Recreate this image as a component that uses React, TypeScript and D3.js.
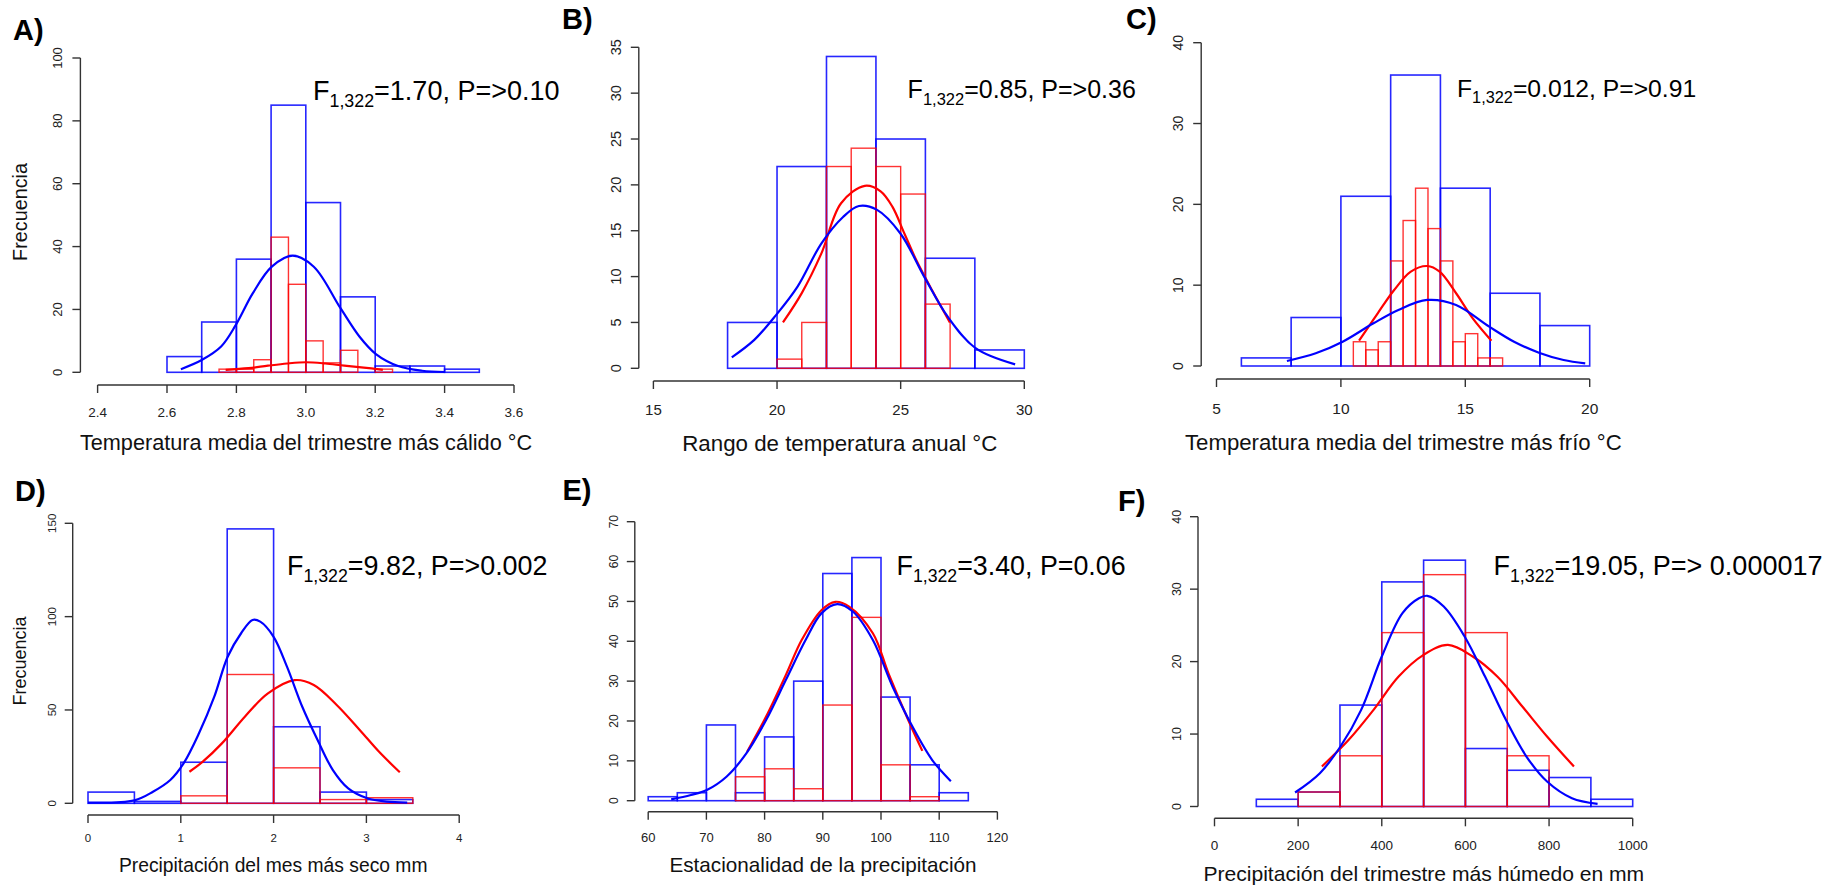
import * as d3 from 'd3'

const FONT = '"Liberation Sans", Arial, Helvetica, sans-serif'
const BLUE = '#0000ff'
const RED = '#ff0000'

// ---- A) warmest quarter mean temperature
const aXTicks = [2.4, 2.6, 2.8, 3.0, 3.2, 3.4, 3.6]
const aYTicks = [0, 20, 40, 60, 80, 100]
const aBlueEdges = [2.6, 2.7, 2.8, 2.9, 3.0, 3.1, 3.2, 3.3, 3.4, 3.5]
const aBlueCounts = [5, 16, 36, 85, 54, 24, 2, 2, 1]
const aRedEdges = [2.75, 2.8, 2.85, 2.9, 2.95, 3.0, 3.05, 3.1, 3.15, 3.2, 3.25]
const aRedCounts = [1, 1, 4, 43, 28, 10, 3, 7, 0, 1]
const aBlueCurve = [[2.64, 1.0], [2.70, 3.9], [2.756, 8.2], [2.798, 15], [2.847, 25.1], [2.902, 33.6], [2.962, 37.1], [3.023, 33.6], [3.10, 20.4], [3.155, 11.3], [3.202, 5.8], [3.266, 2.0], [3.335, 0.5], [3.40, 0.1]]
const aRedCurve = [[2.769, 0.8], [2.835, 1.3], [2.891, 2.1], [2.946, 2.8], [3.001, 3.2], [3.056, 2.8], [3.111, 2.1], [3.167, 1.5], [3.222, 0.8]]

// ---- B) annual temperature range
const bXTicks = [15, 20, 25, 30]
const bYTicks = [0, 5, 10, 15, 20, 25, 30, 35]
const bBlueEdges = [18, 20, 22, 24, 26, 28, 30]
const bBlueCounts = [5, 22, 34, 25, 12, 2]
const bRedEdges = [20, 21, 22, 23, 24, 25, 26, 27]
const bRedCounts = [1, 5, 22, 24, 22, 19, 7]
const bBlueCurve = [[18.17, 1.2], [19.08, 3.1], [19.96, 5.8], [20.83, 8.9], [21.79, 13.6], [22.67, 16.5], [23.31, 17.7], [24.03, 17.3], [24.99, 14.7], [25.95, 10.0], [26.91, 5.6], [28.03, 2.2], [29.63, 0.43]]
const bRedCurve = [[20.24, 5.0], [21.0, 8.2], [21.79, 12.5], [22.59, 18.0], [23.55, 19.9], [24.19, 19.3], [24.67, 17.6], [25.15, 14.7], [25.63, 11.8], [26.27, 8.5], [26.99, 5.0]]

// ---- C) coldest quarter mean temperature
const cXTicks = [5, 10, 15, 20]
const cYTicks = [0, 10, 20, 30, 40]
const cBlueEdges = [6, 8, 10, 12, 14, 16, 18, 20]
const cBlueCounts = [1, 6, 21, 36, 22, 9, 5]
const cRedEdges = [10.5, 11, 11.5, 12, 12.5, 13, 13.5, 14, 14.5, 15, 15.5, 16, 16.5]
const cRedCounts = [3, 2, 3, 13, 18, 22, 17, 13, 3, 4, 1, 1]
const cBlueCurve = [[7.83, 0.62], [8.99, 1.57], [10.07, 3.0], [11.31, 5.28], [12.31, 6.93], [13.47, 8.17], [14.63, 7.55], [15.96, 4.87], [16.96, 3.0], [17.96, 1.65], [18.95, 0.74], [19.82, 0.33]]
const cRedCurve = [[10.73, 3.13], [11.48, 6.52], [12.14, 9.4], [12.81, 11.67], [13.47, 12.37], [13.97, 11.67], [14.63, 9.0], [15.30, 5.9], [16.05, 3.13]]

// ---- D) driest month precipitation
const dXTicks = [0, 1, 2, 3, 4]
const dYTicks = [0, 50, 100, 150]
const dBlueEdges = [0, 0.5, 1, 1.5, 2, 2.5, 3, 3.5]
const dBlueCounts = [6, 1, 22, 147, 41, 6, 2]
const dRedEdges = [1, 1.5, 2, 2.5, 3, 3.5]
const dRedCounts = [4, 69, 19, 2, 3]
const dBlueCurve = [[0, 0.4], [0.5, 1.6], [0.70, 6.2], [0.887, 12.5], [1.03, 21.4], [1.196, 37.5], [1.361, 57.1], [1.505, 78.5], [1.65, 91.1], [1.773, 98.2], [1.856, 97.3], [2.0, 89.2], [2.144, 73.2], [2.309, 51.7], [2.474, 33.9], [2.639, 17.8], [2.804, 8.0], [3.01, 2.7], [3.217, 0.9], [3.44, 0.4]]
const dRedCurve = [[1.093, 16.9], [1.237, 22.3], [1.443, 32.1], [1.69, 46.4], [1.939, 58.9], [2.227, 66.0], [2.433, 63.4], [2.68, 52.7], [2.928, 39.3], [3.134, 27.7], [3.36, 16.6]]

// ---- E) precipitation seasonality
const eXTicks = [60, 70, 80, 90, 100, 110, 120]
const eYTicks = [0, 10, 20, 30, 40, 50, 60, 70]
const eBlueEdges = [60, 65, 70, 75, 80, 85, 90, 95, 100, 105, 110, 115]
const eBlueCounts = [1, 2, 19, 2, 16, 30, 57, 61, 26, 9, 2]
const eRedEdges = [75, 80, 85, 90, 95, 100, 105, 110]
const eRedCounts = [6, 8, 3, 24, 46, 9, 1]
const eBlueCurve = [[63.95, 0.33], [67.34, 1.42], [70.07, 2.68], [73.45, 6.02], [76.86, 11.87], [80.26, 20.24], [83.64, 30.27], [87.04, 40.3], [89.76, 47.0], [92.47, 49.3], [95.2, 47.4], [98.6, 40.3], [102.0, 28.6], [105.4, 18.6], [108.8, 10.2], [112.0, 4.9]]
const eRedCurve = [[77.0, 12.3], [80.26, 21.1], [83.64, 31.5], [86.37, 40.3], [89.76, 47.8], [92.15, 49.9], [94.52, 48.7], [98.6, 42.0], [101.3, 31.9], [104.7, 20.2], [107.1, 12.5]]

// ---- F) wettest quarter precipitation
const fXTicks = [0, 200, 400, 600, 800, 1000]
const fYTicks = [0, 10, 20, 30, 40]
const fBlueEdges = [100, 200, 300, 400, 500, 600, 700, 800, 900, 1000]
const fBlueCounts = [1, 2, 14, 31, 34, 8, 5, 4, 1]
const fRedEdges = [200, 300, 400, 500, 600, 700, 800]
const fRedCounts = [2, 7, 24, 32, 24, 7]
const fBlueCurve = [[192.7, 1.93], [252, 4.6], [301.2, 8.28], [350.7, 13.34], [400, 20.7], [449.5, 26.7], [488.9, 28.75], [508.8, 29.08], [548.2, 27.6], [597.7, 23.5], [647.2, 17.9], [696.5, 12.0], [745.9, 6.9], [795.2, 3.45], [854.7, 1.15], [916, 0.37]]
const fRedCurve = [[256.8, 5.52], [321, 9.2], [380.4, 13.34], [439.7, 17.9], [499, 20.9], [558.2, 22.3], [617.5, 20.7], [676.8, 17.9], [736.1, 13.8], [795.2, 9.66], [859.5, 5.52]]

const panels = [
  {
    tag: 'A)', tagX: 13, tagY: 40,
    xTicks: aXTicks, yTicks: aYTicks, fmt: (v: number) => v.toFixed(1),
    blue: [aBlueEdges, aBlueCounts], red: [aRedEdges, aRedCounts], blueCurve: aBlueCurve, redCurve: aRedCurve,
    xl: 97.6, xr: 514, xAxisY: 385, yAxisX: 80.4, yb: 372.3, yt: 58,
    xTickFs: 13.5, yTickFs: 13, xLabDy: 26.7, yLabDx: 23,
    title: 'Temperatura media del trimestre más cálido °C', titleX: 306, titleY: 441.7, titleFs: 21.7,
    ylab: true, ylabX: 20, ylabY: 212, ylabFs: 19.8,
    stat: ['=1.70, P=>0.10'], statX: 313, statY: 100, statFs: 27,
  },
  {
    tag: 'B)', tagX: 562, tagY: 29,
    xTicks: bXTicks, yTicks: bYTicks, fmt: (v: number) => String(v),
    blue: [bBlueEdges, bBlueCounts], red: [bRedEdges, bRedCounts], blueCurve: bBlueCurve, redCurve: bRedCurve,
    xl: 653.4, xr: 1024.3, xAxisY: 381, yAxisX: 638.8, yb: 368.3, yt: 47.3,
    xTickFs: 15, yTickFs: 14.5, xLabDy: 29, yLabDx: 23,
    title: 'Rango de temperatura anual °C', titleX: 839.8, titleY: 443.3, titleFs: 22.3,
    ylab: false,
    stat: ['=0.85, P=>0.36'], statX: 907.6, statY: 98.3, statFs: 25,
  },
  {
    tag: 'C)', tagX: 1126, tagY: 29,
    xTicks: cXTicks, yTicks: cYTicks, fmt: (v: number) => String(v),
    blue: [cBlueEdges, cBlueCounts], red: [cRedEdges, cRedCounts], blueCurve: cBlueCurve, redCurve: cRedCurve,
    xl: 1216.5, xr: 1589.7, xAxisY: 379, yAxisX: 1201.2, yb: 366, yt: 42.7,
    xTickFs: 15.5, yTickFs: 14, xLabDy: 29.3, yLabDx: 23.7,
    title: 'Temperatura media del trimestre más frío °C', titleX: 1403.4, titleY: 441.7, titleFs: 22.2,
    ylab: false,
    stat: ['=0.012, P=>0.91'], statX: 1457, statY: 96.7, statFs: 24.7,
  },
  {
    tag: 'D)', tagX: 15, tagY: 501,
    xTicks: dXTicks, yTicks: dYTicks, fmt: (v: number) => String(v),
    blue: [dBlueEdges, dBlueCounts], red: [dRedEdges, dRedCounts], blueCurve: dBlueCurve, redCurve: dRedCurve,
    xl: 88, xr: 459.2, xAxisY: 815, yAxisX: 72.7, yb: 803.3, yt: 523.3,
    xTickFs: 11.5, yTickFs: 11.5, xLabDy: 23.3, yLabDx: 21,
    title: 'Precipitación del mes más seco mm', titleX: 273.2, titleY: 865, titleFs: 19.3,
    ylab: true, ylabX: 20, ylabY: 661, ylabFs: 18,
    stat: ['=9.82, P=>0.002'], statX: 287, statY: 575, statFs: 26.9,
  },
  {
    tag: 'E)', tagX: 562.5, tagY: 500,
    xTicks: eXTicks, yTicks: eYTicks, fmt: (v: number) => String(v),
    blue: [eBlueEdges, eBlueCounts], red: [eRedEdges, eRedCounts], blueCurve: eBlueCurve, redCurve: eRedCurve,
    xl: 648.2, xr: 997.4, xAxisY: 811.7, yAxisX: 634.8, yb: 800.7, yt: 521.7,
    xTickFs: 13, yTickFs: 12, xLabDy: 26, yLabDx: 21,
    title: 'Estacionalidad de la precipitación', titleX: 823, titleY: 865, titleFs: 20.7,
    ylab: false,
    stat: ['=3.40, P=0.06'], statX: 896.6, statY: 575, statFs: 26.8,
  },
  {
    tag: 'F)', tagX: 1118, tagY: 511,
    xTicks: fXTicks, yTicks: fYTicks, fmt: (v: number) => String(v),
    blue: [fBlueEdges, fBlueCounts], red: [fRedEdges, fRedCounts], blueCurve: fBlueCurve, redCurve: fRedCurve,
    xl: 1214.5, xr: 1632.7, xAxisY: 818.3, yAxisX: 1198, yb: 806.5, yt: 516.7,
    xTickFs: 13.5, yTickFs: 12.5, xLabDy: 26.7, yLabDx: 22,
    title: 'Precipitación del trimestre más húmedo en mm', titleX: 1423.8, titleY: 873.3, titleFs: 21.1,
    ylab: false,
    stat: ['=19.05, P=> 0.000017'], statX: 1493.4, statY: 575, statFs: 27,
  },
]

function Hist({ edges, counts, x, y, color, width, opacity }: any) {
  return (
    <g>
      {counts.map((c: number, i: number) => (
        <rect key={i}
          x={x(edges[i])} y={y(c)}
          width={x(edges[i + 1]) - x(edges[i])} height={y(0) - y(c)}
          fill="none" stroke={color} strokeWidth={width} strokeOpacity={opacity} />
      ))}
    </g>
  )
}

function Panel({ p }: any) {
  const xDom = [p.xTicks[0], p.xTicks[p.xTicks.length - 1]]
  const yMax = p.yTicks[p.yTicks.length - 1]
  const x = d3.scaleLinear().domain(xDom).range([p.xl, p.xr])
  const y = d3.scaleLinear().domain([0, yMax]).range([p.yb, p.yt])
  const line = d3.line<number[]>()
    .x(d => x(d[0])).y(d => y(d[1]))
    .curve(d3.curveCatmullRom.alpha(0.5))
  const axisCol = '#333'
  const tick = 8

  return (
    <g fontFamily={FONT}>
      <text x={p.tagX} y={p.tagY} fontSize={29} fontWeight="bold" fill="#000">{p.tag}</text>

      {/* y axis */}
      <line x1={p.yAxisX} x2={p.yAxisX} y1={y(0)} y2={y(yMax)} stroke={axisCol} strokeWidth={1.4} />
      {p.yTicks.map((t: number) => (
        <g key={t}>
          <line x1={p.yAxisX - tick} x2={p.yAxisX} y1={y(t)} y2={y(t)} stroke={axisCol} strokeWidth={1.4} />
          <text transform={`translate(${p.yAxisX - p.yLabDx},${y(t)}) rotate(-90)`} dy="0.36em"
            textAnchor="middle" fontSize={p.yTickFs} fill="#222">{t}</text>
        </g>
      ))}

      {/* x axis */}
      <line x1={x(xDom[0])} x2={x(xDom[1])} y1={p.xAxisY} y2={p.xAxisY} stroke={axisCol} strokeWidth={1.4} />
      {p.xTicks.map((t: number) => (
        <g key={t}>
          <line x1={x(t)} x2={x(t)} y1={p.xAxisY} y2={p.xAxisY + tick} stroke={axisCol} strokeWidth={1.4} />
          <text x={x(t)} y={p.xAxisY + p.xLabDy} dy="0.36em" textAnchor="middle"
            fontSize={p.xTickFs} fill="#222">{p.fmt(t)}</text>
        </g>
      ))}

      <text x={p.titleX} y={p.titleY} dy="0.36em" textAnchor="middle" fontSize={p.titleFs} fill="#111">{p.title}</text>
      {p.ylab && (
        <text transform={`translate(${p.ylabX},${p.ylabY}) rotate(-90)`} dy="0.36em" textAnchor="middle"
          fontSize={p.ylabFs} fill="#111">Frecuencia</text>
      )}

      <Hist edges={p.blue[0]} counts={p.blue[1]} x={x} y={y} color={BLUE} width={1.6} opacity={0.85} />
      <Hist edges={p.red[0]} counts={p.red[1]} x={x} y={y} color={RED} width={1.4} opacity={0.8} />

      <path d={line(p.redCurve) || ''} fill="none" stroke={RED} strokeWidth={2.2} />
      <path d={line(p.blueCurve) || ''} fill="none" stroke={BLUE} strokeWidth={2.2} />

      <text x={p.statX} y={p.statY} fontSize={p.statFs} fill="#000">
        F
        <tspan fontSize={p.statFs * 0.66} dy={p.statFs * 0.25}>1,322</tspan>
        <tspan fontSize={p.statFs} dy={-p.statFs * 0.25}>{p.stat[0]}</tspan>
      </text>
    </g>
  )
}

export default function App() {
  return (
    <svg width={1848} height={886} style={{ position: 'absolute', left: 0, top: 0, background: '#fff' }}>
      <rect width={1848} height={886} fill="#fff" />
      {panels.map(p => <Panel key={p.tag} p={p} />)}
    </svg>
  )
}
